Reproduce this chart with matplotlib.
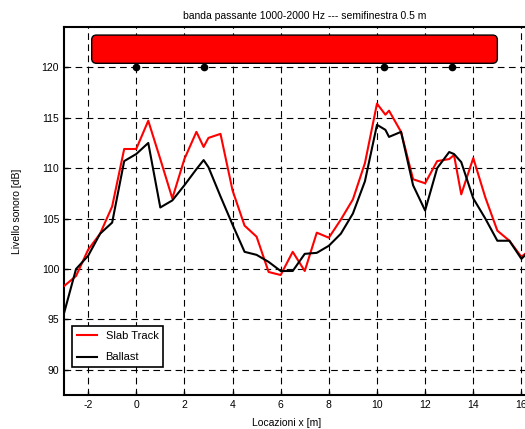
import numpy as np
import matplotlib.pyplot as plt
from matplotlib.patches import FancyBboxPatch

plt.rcParams['font.family'] = ['Liberation Sans', 'DejaVu Sans']
plt.rcParams['axes.unicode_minus'] = False

# locations along the track [m]
x_loc = [-3, -2.5, -2, -1.5, -1, -0.5, 0, 0.5, 1, 1.5, 2, 2.5, 2.8, 3, 3.5, 4, 4.5, 5, 5.5, 6,
         6.5, 7, 7.5, 8, 8.5, 9, 9.5, 10, 10.35, 10.5, 11, 11.5, 12, 12.5, 13, 13.2, 13.5, 14,
         14.5, 15, 15.5, 16, 16.5]

slab = [98.3, 99.3, 101.9, 103.5, 106.2, 111.9, 111.9, 114.7, 110.9, 107.0, 110.9, 113.6, 112.1,
        113.0, 113.4, 107.8, 104.3, 103.2, 99.7, 99.4, 101.7, 99.8, 103.6, 103.1, 104.9, 106.9,
        110.5, 116.4, 115.3, 115.7, 113.6, 108.9, 108.5, 110.7, 110.9, 111.3, 107.4, 111.0, 107.1,
        103.8, 102.8, 101.2, 102.2]

ballast = [95.6, 100.0, 101.3, 103.5, 104.6, 110.7, 111.4, 112.5, 106.1, 106.8, 108.3, 109.9, 110.8,
           110.1, 107.2, 104.4, 101.7, 101.4, 100.7, 99.8, 99.8, 101.5, 101.6, 102.3, 103.5, 105.5,
           108.7, 114.3, 113.8, 113.1, 113.6, 108.3, 105.8, 110.0, 111.6, 111.4, 110.6, 107.0, 105.0,
           102.8, 102.8, 101.0, 102.2]

# vehicle body and axle positions
body_x = (-1.85, 15.0)
body_y = (120.4, 123.2)
axles = [0, 2.8, 10.3, 13.1]
axle_level = 120

fig = plt.figure(figsize=(5.25, 4.29), dpi=100)
ax = fig.add_axes([64 / 525, 34 / 429, 481.5 / 525, 368 / 429])

ax.set_xlim(-3, 17)
ax.set_ylim(87.5, 124)
ax.set_xticks(np.arange(-2, 17, 2))
ax.set_yticks(np.arange(90, 121, 5))
ax.grid(True, color='black', ls=(0, (6, 4)), lw=0.8)
ax.set_axisbelow(True)

body = FancyBboxPatch((body_x[0], body_y[0]), body_x[1] - body_x[0], body_y[1] - body_y[0],
                      boxstyle='round,pad=0,rounding_size=0.2', mutation_aspect=2.4,
                      facecolor='red', edgecolor='black', lw=1, zorder=3)
ax.add_patch(body)
ax.plot(axles, [axle_level] * len(axles), 'ko', ms=4.5, zorder=4)

ax.plot(x_loc, slab, c='red', lw=1.5, label='Slab Track', zorder=5)
ax.plot(x_loc, ballast, c='black', lw=1.5, label='Ballast', zorder=5)

for s in ['left', 'bottom', 'top', 'right']:
    ax.spines[s].set_linewidth(1.5)
ax.tick_params(direction='in', length=3, labelsize=7.5, width=1)

ax.set_title('banda passante 1000-2000 Hz --- semifinestra 0.5 m', fontsize=7.5, pad=6)
ax.set_ylabel('Livello sonoro [dB]', fontsize=7.5)
ax.set_xlabel('Locazioni x [m]', fontsize=7.5)
ax.xaxis.set_label_coords(0.463, -0.062)
ax.yaxis.set_label_coords(-0.088, 0.5)

leg = ax.legend(loc='lower left', bbox_to_anchor=(0.016, 0.075), borderaxespad=0,
                fancybox=False, edgecolor='black', fontsize=8, handlelength=1.8,
                labelspacing=1.0, borderpad=0.45, framealpha=1)
leg.get_frame().set_linewidth(1.2)

fig.savefig('out.png', dpi=100)
